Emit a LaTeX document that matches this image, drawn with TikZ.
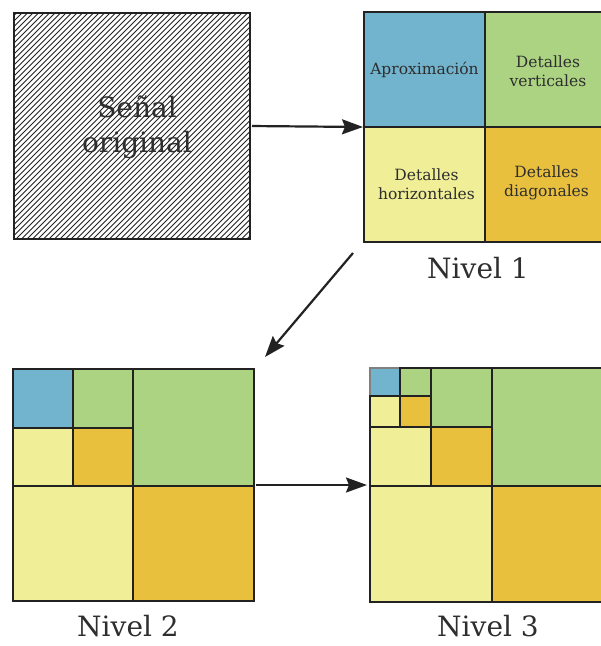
\documentclass[tikz,border=0pt]{standalone}
\usepackage{fontspec}
\setmainfont{DejaVu Serif}
\usetikzlibrary{arrows.meta}

\definecolor{aprox}{HTML}{72B4CE}
\definecolor{vert}{HTML}{ACD382}
\definecolor{horiz}{HTML}{F0EE96}
\definecolor{diag}{HTML}{E9BF3E}
\definecolor{ink}{HTML}{222222}
\definecolor{txt}{HTML}{2E2E2E}

\tikzset{
  cell/.style={draw=ink, line width=2pt, rectangle, inner sep=0pt, outer sep=0pt, anchor=north west},
  frame/.style={rectangle, inner sep=0pt, outer sep=0pt, anchor=north west},
  lbl/.style={text=txt, align=center, inner sep=1pt, font=\fontsize{15.5}{19}\selectfont},
  big/.style={text=txt, inner sep=0pt, font=\fontsize{28}{33}\selectfont},
  arr/.style={draw=ink, line width=2.2pt, -{Stealth[length=21pt, width=15pt, inset=3pt]}},
}

\begin{document}
\begin{tikzpicture}[x=1pt, y=-1pt]
\useasboundingbox (0,0) rectangle (601,646);
\clip (0,0) rectangle (601,646);

% ---- original signal, hatched ----
\begin{scope}
  \clip (14,13) rectangle (250,239);
  \foreach \s in {-240,-234.5,...,250}
    \draw[ink, line width=0.9pt] (14+\s,239) -- ++(226,-226);
\end{scope}
\node[frame, draw=ink, line width=2pt, minimum width=236pt, minimum height=226pt] (orig) at (14,13) {};
\node[big, align=center, font=\fontsize{28}{35}\selectfont] (origtxt) at (137,127) {Señal\\original};

% ---- level 1 ----
\node[cell, fill=aprox, minimum width=120.5pt, minimum height=115pt] (a1) at (364,12) {};
\node[cell, fill=vert,  minimum width=122pt,   minimum height=115pt] (v1) at (484.5,12) {};
\node[cell, fill=horiz, minimum width=120.5pt, minimum height=115pt] (h1) at (364,127) {};
\node[cell, fill=diag,  minimum width=122pt,   minimum height=115pt] (d1) at (484.5,127) {};
\node[frame, minimum width=242.5pt, minimum height=230pt] (lvl1) at (364,12) {};
\node[lbl] (ta1) at (424.5,70) {Aproximación};
\node[lbl] (tv1) at (548,71) {Detalles\\verticales};
\node[lbl] (th1) at (426.5,184) {Detalles\\horizontales};
\node[lbl] (td1) at (546.5,183) {Detalles\\diagonales};
\node[big] (n1) at (478,268) {Nivel 1};

% ---- level 2 ----
\node[cell, fill=aprox, minimum width=59.5pt, minimum height=59pt] (a2) at (13,369) {};
\node[cell, fill=vert,  minimum width=60pt,   minimum height=59pt] (v2) at (72.5,369) {};
\node[cell, fill=horiz, minimum width=59.5pt, minimum height=58pt] (h2) at (13,428) {};
\node[cell, fill=diag,  minimum width=60pt,   minimum height=58pt] (d2) at (72.5,428) {};
\node[cell, fill=vert,  minimum width=121pt,  minimum height=117pt] (V2) at (132.5,369) {};
\node[cell, fill=horiz, minimum width=119.5pt,minimum height=115pt] (H2) at (13,486) {};
\node[cell, fill=diag,  minimum width=121pt,  minimum height=115pt] (D2) at (132.5,486) {};
\node[frame, minimum width=240.5pt, minimum height=232pt] (lvl2) at (13,369) {};
\node[big] (n2) at (128,626) {Nivel 2};

% ---- level 3 ----
\node[cell, draw=gray, fill=aprox, minimum width=30pt, minimum height=28pt] (a3) at (370,368) {};
\node[cell, fill=vert,  minimum width=31pt, minimum height=28pt] (v3) at (400,368) {};
\node[cell, fill=horiz, minimum width=30pt, minimum height=31pt] (h3) at (370,396) {};
\node[cell, fill=diag,  minimum width=31pt, minimum height=31pt] (d3) at (400,396) {};
\node[cell, fill=vert,  minimum width=61pt, minimum height=59pt] (V3) at (431,368) {};
\node[cell, fill=horiz, minimum width=61pt, minimum height=59pt] (H3) at (370,427) {};
\node[cell, fill=diag,  minimum width=61pt, minimum height=59pt] (D3) at (431,427) {};
\node[cell, fill=vert,  minimum width=115pt,minimum height=118pt] (VV3) at (492,368) {};
\node[cell, fill=horiz, minimum width=122pt,minimum height=116pt] (HH3) at (370,486) {};
\node[cell, fill=diag,  minimum width=115pt,minimum height=116pt] (DD3) at (492,486) {};
\node[frame, minimum width=237pt, minimum height=234pt] (lvl3) at (370,368) {};
\node[big] (n3) at (488,626) {Nivel 3};

% ---- connectors ----
\coordinate (s2) at (353,253);
\coordinate (e2) at (265,357);
\draw[arr, shorten <=2pt, shorten >=1pt] (orig.east) -- (lvl1.west);
\draw[arr] (s2) -- (e2);
\draw[arr, shorten <=2pt, shorten >=3pt] (lvl2.east) -- (lvl3.west);
\end{tikzpicture}
\end{document}
